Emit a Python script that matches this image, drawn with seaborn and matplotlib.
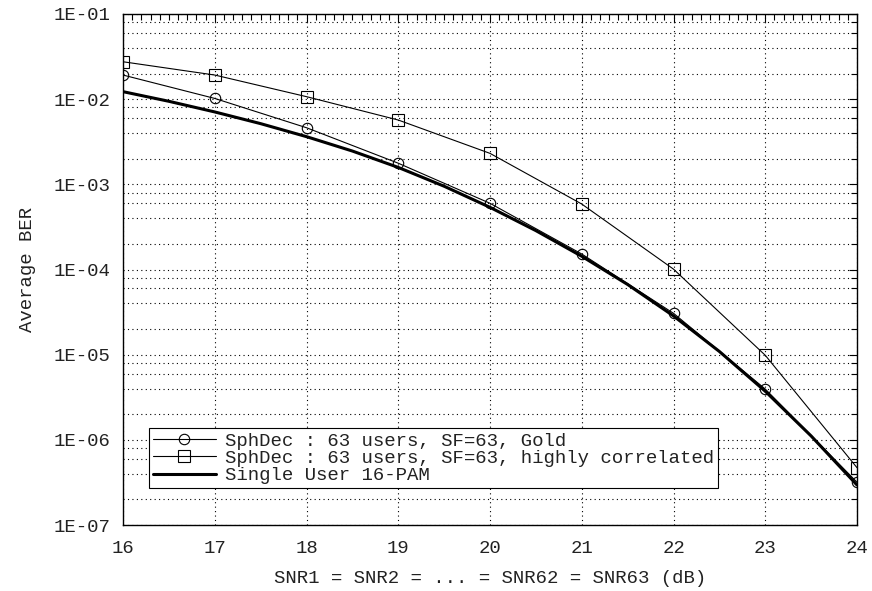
import numpy as np
import pandas as pd
import matplotlib
matplotlib.use("Agg")
import matplotlib.pyplot as plt
import matplotlib.ticker as mticker
import seaborn as sns

# ---- data ----
snr = [16, 17, 18, 19, 20, 21, 22, 23, 24]
ber_gold = [1.92e-2, 1.02e-2, 4.62e-3, 1.77e-3, 5.99e-4, 1.52e-4, 3.06e-5, 3.95e-6, 3.18e-7]
ber_corr = [2.75e-2, 1.92e-2, 1.07e-2, 5.69e-3, 2.31e-3, 5.87e-4, 1.01e-4, 9.84e-6, 4.71e-7]
snr_su = [16, 16.5, 17, 17.5, 18, 18.5, 19, 19.5, 20, 20.5, 21, 21.5, 22, 22.5, 23, 23.5, 24]
ber_su = [1.225e-2, 9.44e-3, 7.08e-3, 5.16e-3, 3.63e-3, 2.46e-3, 1.58e-3, 9.5e-4, 5.37e-4,
          2.86e-4, 1.43e-4, 6.67e-5, 2.85e-5, 1.09e-5, 3.72e-6, 1.11e-6, 2.95e-7]
labels = ["SphDec : 63 users, SF=63, Gold",
          "SphDec : 63 users, SF=63, highly correlated",
          "Single User 16-PAM"]
yticks = [1e-7, 1e-6, 1e-5, 1e-4, 1e-3, 1e-2, 1e-1]
ytick_labels = ["1E-07", "1E-06", "1E-05", "1E-04", "1E-03", "1E-02", "1E-01"]
xticks = [16, 17, 18, 19, 20, 21, 22, 23, 24]

df_gold = pd.DataFrame({"snr": snr, "ber": ber_gold})
df_corr = pd.DataFrame({"snr": snr, "ber": ber_corr})
df_su = pd.DataFrame({"snr": snr_su, "ber": ber_su})

sns.set_theme(style="white")
plt.rcParams["font.family"] = ["Liberation Mono", "DejaVu Sans Mono"]
FS = 13.7
plt.rcParams["font.size"] = FS

fig = plt.figure(figsize=(8.72, 5.91), dpi=100)
ax = fig.add_axes([123/872, 1 - 525/591, (857-123)/872, (525-14)/591])

sns.lineplot(data=df_gold, x="snr", y="ber", ax=ax, color="black", linewidth=0.8,
             marker="o", markersize=7.5, markerfacecolor="none", markeredgecolor="black",
             markeredgewidth=0.8, label=labels[0], zorder=4)
sns.lineplot(data=df_corr, x="snr", y="ber", ax=ax, color="black", linewidth=0.8,
             marker="s", markersize=8, markerfacecolor="none", markeredgecolor="black",
             markeredgewidth=0.8, label=labels[1], zorder=4)
sns.lineplot(data=df_su, x="snr", y="ber", ax=ax, color="black", linewidth=2.2,
             label=labels[2], zorder=3)

ax.set_yscale("log")
ax.set_xlim(16, 24)
ax.set_ylim(1e-7, 1e-1)
ax.set_xticks(xticks)
ax.set_xticklabels([str(v) for v in xticks])
ax.xaxis.set_minor_locator(mticker.MultipleLocator(0.1))
ax.yaxis.set_major_locator(mticker.FixedLocator(yticks))
ax.set_yticklabels(ytick_labels)
ax.yaxis.set_minor_locator(mticker.LogLocator(base=10, subs=[2, 4, 6, 8], numticks=20))
ax.yaxis.set_minor_formatter(mticker.NullFormatter())

ax.tick_params(which="both", direction="in", top=True, right=True, colors="black",
               labelcolor="#222222")
ax.tick_params(which="major", length=6, width=0.8, labelsize=FS)
ax.tick_params(axis="x", which="major", pad=11)
ax.tick_params(axis="y", which="major", pad=9)
ax.tick_params(which="minor", length=4, width=0.8)

ax.grid(True, which="major", axis="both", color="black", linestyle=(0, (1, 3)), linewidth=0.8)
ax.grid(True, which="minor", axis="y", color="black", linestyle=(0, (1, 3)), linewidth=0.8)

for sp in ax.spines.values():
    sp.set_color("black")
    sp.set_linewidth(1.0)

ax.set_xlabel("SNR1 = SNR2 = ... = SNR62 = SNR63 (dB)", fontsize=FS, color="#222222", labelpad=9)
ax.set_ylabel("Average BER", fontsize=FS, color="#222222", labelpad=13)

leg = ax.legend(loc="lower left", bbox_to_anchor=((149-123)/734, (525-488)/511),
                borderaxespad=0, frameon=True, fancybox=False, edgecolor="black",
                framealpha=1, fontsize=FS, handlelength=3.3, handletextpad=0.5,
                labelspacing=0.0, borderpad=0.2)
leg.get_frame().set_linewidth(0.8)
for t in leg.get_texts():
    t.set_color("#222222")

fig.savefig("out.png", dpi=100)
